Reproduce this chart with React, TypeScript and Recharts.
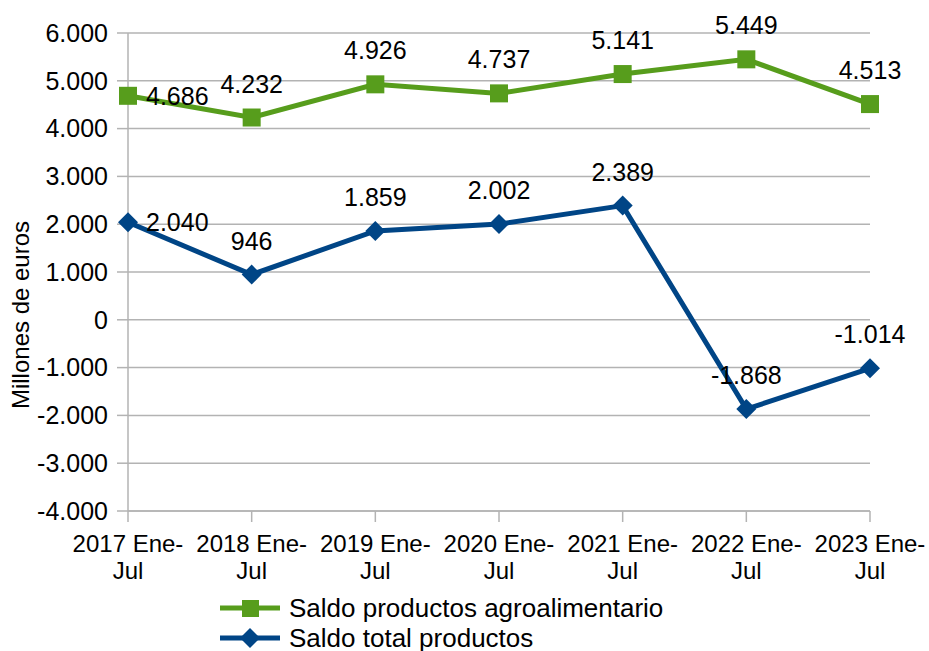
import { CartesianGrid, Label, LabelList, Legend, Line, LineChart, XAxis, YAxis } from 'recharts';

const categories = [
  '2017 Ene-Jul',
  '2018 Ene-Jul',
  '2019 Ene-Jul',
  '2020 Ene-Jul',
  '2021 Ene-Jul',
  '2022 Ene-Jul',
  '2023 Ene-Jul',
];
const agroValues = [4686, 4232, 4926, 4737, 5141, 5449, 4513];
const totalValues = [2040, 946, 1859, 2002, 2389, -1868, -1014];
const yTicks = [-4000, -3000, -2000, -1000, 0, 1000, 2000, 3000, 4000, 5000, 6000];

const GREEN = '#579d1c';
const BLUE = '#004586';
const GRID = '#b3b3b3';
const FONT = '"Liberation Sans", Arial, sans-serif';

const data = categories.map((c, i) => ({ cat: c, agro: agroValues[i], total: totalValues[i] }));

// 1234 -> "1.234", -1868 -> "-1.868"
function fmt(v: number) {
  const s = Math.abs(v).toString().replace(/\B(?=(\d{3})+(?!\d))/g, '.');
  return v < 0 ? '-' + s : s;
}

function SquareDot(props: any) {
  const { cx, cy } = props;
  if (cx == null || cy == null) return null;
  return <rect x={cx - 9} y={cy - 9} width={18} height={18} fill={GREEN} />;
}

function DiamondDot(props: any) {
  const { cx, cy } = props;
  if (cx == null || cy == null) return null;
  const r = 10;
  return <polygon points={`${cx},${cy - r} ${cx + r},${cy} ${cx},${cy + r} ${cx - r},${cy}`} fill={BLUE} />;
}

function ValueLabel(props: any) {
  const { x, y, value, index } = props;
  if (index === 0) {
    return (
      <text x={x + 18} y={y + 9} textAnchor="start" fontSize={25} fontFamily={FONT} fill="#000">
        {fmt(value)}
      </text>
    );
  }
  return (
    <text x={x} y={y - 25} textAnchor="middle" fontSize={25} fontFamily={FONT} fill="#000">
      {fmt(value)}
    </text>
  );
}

function CategoryTick(props: any) {
  const { x, y, payload } = props;
  const v: string = payload.value;
  const cut = v.lastIndexOf('-') + 1;
  return (
    <text x={x} y={y} textAnchor="middle" fontSize={24} fontFamily={FONT} fill="#000">
      <tspan x={x} dy={28}>{v.slice(0, cut)}</tspan>
      <tspan x={x} dy={27}>{v.slice(cut)}</tspan>
    </text>
  );
}

function LegendBox() {
  const rows = [
    { name: 'Saldo productos agroalimentario', color: GREEN, shape: 'square' },
    { name: 'Saldo total productos', color: BLUE, shape: 'diamond' },
  ];
  return (
    <div style={{ height: 62, position: 'relative' }}>
      {rows.map((r, i) => (
        <svg key={r.name} width={480} height={31} style={{ position: 'absolute', left: 220, top: 22 + i * 30 }}>
          <line x1={0} x2={60} y1={15} y2={15} stroke={r.color} strokeWidth={5} />
          {r.shape === 'square' ? (
            <rect x={22} y={7} width={17} height={17} fill={r.color} />
          ) : (
            <polygon points="30,5 40,15 30,25 20,15" fill={r.color} />
          )}
          <text x={69} y={24} fontSize={26} fontFamily={FONT} fill="#000">
            {r.name}
          </text>
        </svg>
      ))}
    </div>
  );
}

export default function App() {
  return (
    <div style={{ position: 'absolute', left: 0, top: 0, background: '#fff' }}>
      <LineChart
        width={929}
        height={651}
        data={data}
        margin={{ top: 33, right: 59, left: 0, bottom: 18 }}
      >
        <CartesianGrid vertical={false} stroke={GRID} strokeWidth={1.5} />
        <XAxis
          dataKey="cat"
          height={60}
          interval={0}
          padding={{ left: 0, right: 0 }}
          axisLine={{ stroke: GRID, strokeWidth: 1.5 }}
          tickLine={{ stroke: GRID, strokeWidth: 1.5 }}
          tickSize={11}
          tick={<CategoryTick />}
        />
        <YAxis
          domain={[-4000, 6000]}
          ticks={yTicks}
          interval={0}
          width={128}
          tickFormatter={fmt}
          axisLine={{ stroke: GRID, strokeWidth: 1.5 }}
          tickLine={{ stroke: GRID, strokeWidth: 1.5 }}
          tickSize={11}
          tickMargin={9}
          tick={{ fontSize: 25, fontFamily: FONT, fill: '#000' }}
        >
          <Label
            content={(p: any) => {
              const vb = p.viewBox;
              const cx = vb.x + 20;
              const cy = vb.y + vb.height / 2 + 43;
              return (
                <text
                  x={cx}
                  y={cy}
                  transform={`rotate(-90 ${cx} ${cy})`}
                  textAnchor="middle"
                  dominantBaseline="central"
                  fontSize={24}
                  fontFamily={FONT}
                  fill="#000"
                >
                  Millones de euros
                </text>
              );
            }}
          />
        </YAxis>
        <YAxis
          yAxisId="frame"
          orientation="right"
          domain={[-4000, 6000]}
          width={0}
          tick={false}
          tickLine={false}
          axisLine={{ stroke: GRID, strokeWidth: 1.5 }}
        />
        <Legend verticalAlign="bottom" content={<LegendBox />} />
        <Line
          dataKey="agro"
          name="Saldo productos agroalimentario"
          stroke={GREEN}
          strokeWidth={5}
          dot={<SquareDot />}
          activeDot={false}
          isAnimationActive={false}
        >
          <LabelList dataKey="agro" content={<ValueLabel />} />
        </Line>
        <Line
          dataKey="total"
          name="Saldo total productos"
          stroke={BLUE}
          strokeWidth={5}
          dot={<DiamondDot />}
          activeDot={false}
          isAnimationActive={false}
        >
          <LabelList dataKey="total" content={<ValueLabel />} />
        </Line>
      </LineChart>
    </div>
  );
}
